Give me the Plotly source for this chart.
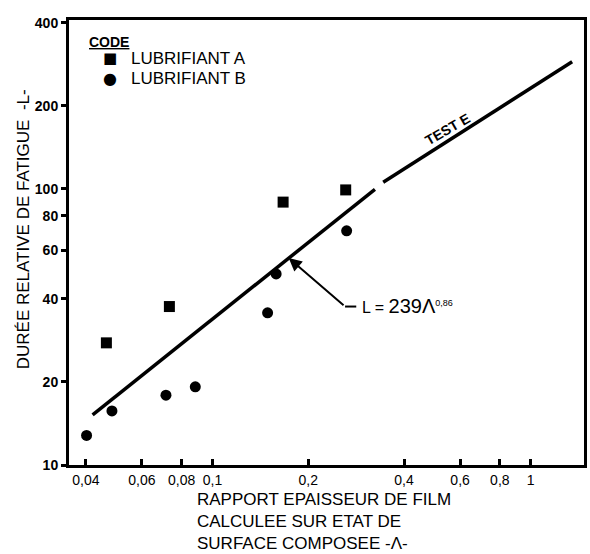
import numpy as np
import plotly.graph_objects as go

# ---- data ----
lub_a_x = [0.0464, 0.0732, 0.1667, 0.2622]
lub_a_y = [27.7, 37.5, 89.6, 99.2]
lub_b_x = [0.0402, 0.0483, 0.0714, 0.0883, 0.149, 0.1585, 0.264]
lub_b_y = [12.8, 15.7, 17.9, 19.2, 35.6, 49.2, 70.5]

fit1_x = [0.042, 0.324]
fit1_y = [15.2, 99.7]
fit2_x = [0.344, 1.35]
fit2_y = [105.8, 289.0]

x_tickvals = [0.04, 0.06, 0.08, 0.1, 0.2, 0.4, 0.6, 0.8, 1]
x_ticktext = ["0,04", "0,06", "0,08", "0,1", "0,2", "0,4", "0,6", "0,8", "1"]
y_tickvals = [10, 20, 40, 60, 80, 100, 200, 400]
y_ticktext = ["10", "20", "40", "60", "80", "100", "200", "400"]

legend_title = "CODE"
legend_names = ["LUBRIFIANT A", "LUBRIFIANT B"]
legend_symbols = ["■", "●"]

# annotation anchor points (data units)
arrow_tip = (0.1736, 56.2)
arrow_tail = (0.261, 37.5)
leader_end = (0.283, 37.5)
formula_pos = (0.2913, 37.7)
test_label_pos = (0.549, 165.0)

FONT = "Liberation Sans, Arial, sans-serif"
lg = np.log10

fig = go.Figure()

fig.add_trace(go.Scatter(x=fit1_x, y=fit1_y, mode="lines",
                         line=dict(color="black", width=3.5),
                         showlegend=False, hoverinfo="skip"))
fig.add_trace(go.Scatter(x=fit2_x, y=fit2_y, mode="lines",
                         line=dict(color="black", width=3.5),
                         showlegend=False, hoverinfo="skip"))
fig.add_trace(go.Scatter(x=[arrow_tail[0], leader_end[0]], y=[arrow_tail[1], leader_end[1]],
                         mode="lines", line=dict(color="black", width=2),
                         showlegend=False, hoverinfo="skip"))

fig.add_trace(go.Scatter(x=lub_a_x, y=lub_a_y, mode="markers", name=legend_names[0],
                         marker=dict(symbol="square", size=11, color="black"),
                         showlegend=False))
fig.add_trace(go.Scatter(x=lub_b_x, y=lub_b_y, mode="markers", name=legend_names[1],
                         marker=dict(symbol="circle", size=11, color="black"),
                         showlegend=False))

L, R, T, B = 69, 3, 20, 89
W, H = 590, 554
pw, ph = W - L - R, H - T - B

def px_x(p):
    return (p - L) / pw

def px_y(p):
    return (H - B - p) / ph

annotations = [
    dict(x=lg(arrow_tip[0]), y=lg(arrow_tip[1]), ax=lg(arrow_tail[0]), ay=lg(arrow_tail[1]),
         xref="x", yref="y", axref="x", ayref="y", text="", showarrow=True,
         arrowhead=2, arrowsize=1.3, arrowwidth=2, arrowcolor="black"),
    dict(x=lg(formula_pos[0]), y=lg(formula_pos[1]), xref="x", yref="y",
         xanchor="left", yanchor="middle", showarrow=False,
         text="L = <span style='font-size:20px'>239Λ</span><sup><span style='font-size:9px'>0,86</span></sup>",
         font=dict(family=FONT, size=16, color="black")),
    dict(x=lg(test_label_pos[0]), y=lg(test_label_pos[1]), xref="x", yref="y",
         showarrow=False, text="<b>TEST E</b>", textangle=-30,
         font=dict(family=FONT, size=14, color="black")),
    dict(x=px_x(24), y=px_y(229), xref="paper", yref="paper", showarrow=False,
         text="DURÉE RELATIVE DE FATIGUE  -L-", textangle=-90,
         xanchor="center", yanchor="middle",
         font=dict(family=FONT, size=17, color="black")),
    dict(x=px_x(196), y=px_y(521), xref="paper", yref="paper", showarrow=False,
         text="RAPPORT EPAISSEUR DE FILM<br>CALCULEE SUR ETAT DE<br>SURFACE COMPOSEE -Λ-",
         align="left", xanchor="left", yanchor="middle",
         font=dict(family=FONT, size=17, color="black")),
    # manual legend
    dict(x=px_x(87), y=px_y(42), xref="paper", yref="paper", showarrow=False,
         text="<b><u>" + legend_title + "</u></b>", xanchor="left", yanchor="middle",
         font=dict(family=FONT, size=14, color="black")),
]
for i, (sym, name) in enumerate(zip(legend_symbols, legend_names)):
    yy = 58 + 20 * i
    annotations.append(dict(x=px_x(110), y=px_y(yy), xref="paper", yref="paper",
                            showarrow=False, text=sym, xanchor="center", yanchor="middle",
                            font=dict(family="DejaVu Sans", size=15 if i == 0 else 16, color="black")))
    annotations.append(dict(x=px_x(129), y=px_y(yy), xref="paper", yref="paper",
                            showarrow=False, text=name, xanchor="left", yanchor="middle",
                            font=dict(family=FONT, size=17, color="black")))

fig.update_layout(
    width=W, height=H,
    margin=dict(l=L, r=R, t=T, b=B),
    paper_bgcolor="white", plot_bgcolor="white",
    font=dict(family=FONT, color="black"),
    annotations=annotations,
    showlegend=False,
    xaxis=dict(
        type="log", range=[-1.451, 0.1676],
        tickvals=x_tickvals, ticktext=x_ticktext,
        ticks="inside", ticklen=6, tickwidth=2.5, tickcolor="black",
        showline=True, linecolor="black", linewidth=3, mirror=True,
        showgrid=False, zeroline=False,
        tickfont=dict(family=FONT, size=14, color="black"),
    ),
    yaxis=dict(
        type="log", range=[1, 2.612],
        tickvals=y_tickvals, ticktext=y_ticktext,
        ticks="outside", ticklen=5, tickwidth=2.5, tickcolor="black",
        showline=True, linecolor="black", linewidth=3, mirror=True,
        showgrid=False, zeroline=False,
        tickfont=dict(family=FONT, size=14, color="black", weight="bold"),
    ),
)

fig.write_html("out.html")
